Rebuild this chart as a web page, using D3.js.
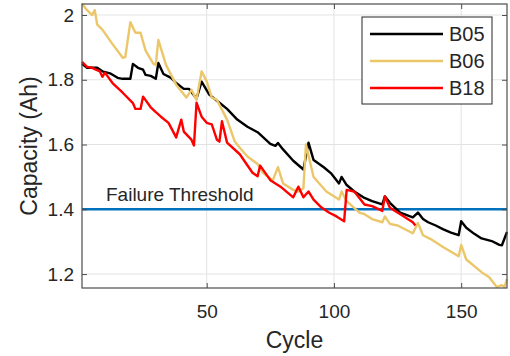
<!DOCTYPE html>
<html>
<head>
<meta charset="utf-8">
<script src="https://cdn.jsdelivr.net/npm/d3@7"></script>
<style>
  body { margin: 0; background: #fff; }
  text { font-family: "Liberation Sans", Arial, sans-serif; fill: #262626; }
</style>
</head>
<body>
<svg id="vis" width="510" height="356"></svg>
<script>
const svg = d3.select("#vis");

// [cycle, capacity Ah]
const b05 = [[1,1.849],[3,1.837],[7,1.837],[9,1.826],[12,1.82],[15,1.806],[17,1.803],[20,1.803],
  [21,1.849],[23,1.837],[25,1.831],[26,1.815],[28,1.812],[30,1.803],[31,1.852],[33,1.818],[36,1.806],
  [38,1.79],[41,1.772],[43,1.772],[46,1.742],[48,1.794],[51,1.754],[55,1.729],[58,1.71],[62,1.677],
  [66,1.655],[70,1.638],[75,1.602],[77,1.596],[78,1.605],[80,1.585],[84,1.55],[88,1.523],[90,1.606],
  [92,1.552],[96,1.53],[99,1.51],[102,1.48],[103,1.5],[105,1.475],[108,1.455],[112,1.435],[115,1.425],
  [119,1.415],[120,1.44],[122,1.42],[126,1.39],[131,1.375],[133,1.39],[135,1.37],[137,1.36],[140,1.35],
  [143,1.338],[146,1.328],[149,1.32],[150,1.363],[152,1.343],[155,1.325],[158,1.31],[162,1.302],
  [165,1.29],[166,1.289],[168,1.33]];

const b06 = [[1,2.035],[3,2.015],[5,2.0],[6,2.015],[7,1.97],[9,1.955],[13,1.91],[17,1.868],[18,1.87],
  [20,1.978],[22,1.945],[24,1.945],[26,1.89],[29,1.85],[30,1.846],[31,1.923],[34,1.846],[38,1.785],
  [42,1.745],[44,1.769],[46,1.738],[48,1.826],[50,1.795],[52,1.745],[54,1.738],[56,1.708],[58,1.677],
  [61,1.61],[63,1.59],[66,1.563],[70,1.54],[72,1.513],[76,1.49],[78,1.53],[80,1.48],[84,1.46],
  [86,1.455],[88,1.465],[89,1.6],[92,1.5],[97,1.455],[102,1.43],[103,1.455],[105,1.425],[110,1.39],
  [112,1.385],[115,1.37],[119,1.36],[120,1.378],[122,1.355],[125,1.35],[131,1.326],[133,1.358],
  [135,1.32],[138,1.308],[143,1.283],[149,1.255],[150,1.29],[152,1.245],[158,1.206],[161,1.19],
  [164,1.16],[166,1.166],[167,1.16],[168,1.185]];

const b18 = [[1,1.855],[3,1.84],[5,1.837],[8,1.826],[9,1.809],[10,1.822],[13,1.79],[17,1.76],[21,1.728],
  [22,1.71],[24,1.71],[25,1.748],[28,1.715],[30,1.7],[32,1.686],[35,1.667],[38,1.622],[40,1.677],
  [41,1.64],[44,1.615],[45,1.597],[46,1.729],[48,1.686],[50,1.667],[52,1.662],[54,1.615],[55,1.609],
  [56,1.672],[58,1.606],[63,1.57],[68,1.513],[70,1.502],[71,1.535],[75,1.49],[79,1.47],[84,1.437],
  [86,1.47],[88,1.437],[90,1.455],[92,1.43],[95,1.406],[98,1.39],[101,1.378],[104,1.363],[105,1.46],
  [108,1.455],[112,1.415],[115,1.41],[119,1.395],[120,1.44],[122,1.405],[127,1.38],[131,1.36],[132,1.35]];

const series = [
  {name: "B05", data: b05, color: "#000000"},
  {name: "B06", data: b06, color: "#ecc76a"},
  {name: "B18", data: b18, color: "#ff0000"}
];
const THRESHOLD = 1.4;
const xTicks = [50, 100, 150];
const yTicks = [1.2, 1.4, 1.6, 1.8, 2];

const L = 82, R = 507, T = 4, B = 288;
const x = d3.scaleLinear().domain([1, 168]).range([L, R]);
const y = d3.scaleLinear().domain([1.157, 2.034]).range([B, T]);

// grid
svg.append("g").selectAll("line").data(xTicks).join("line")
  .attr("x1", d => x(d)).attr("x2", d => x(d)).attr("y1", T).attr("y2", B)
  .attr("stroke", "#e3e3e3").attr("stroke-width", 1);
svg.append("g").selectAll("line").data(yTicks).join("line")
  .attr("x1", L).attr("x2", R).attr("y1", d => y(d)).attr("y2", d => y(d))
  .attr("stroke", "#e3e3e3").attr("stroke-width", 1);

// threshold
svg.append("line")
  .attr("x1", L).attr("x2", R).attr("y1", y(THRESHOLD)).attr("y2", y(THRESHOLD))
  .attr("stroke", "#0072bd").attr("stroke-width", 2.5);
svg.append("text").attr("x", 106).attr("y", y(THRESHOLD) - 8)
  .attr("font-size", 19).text("Failure Threshold");

// lines
const line = d3.line().x(d => x(d[0])).y(d => y(d[1]));
svg.append("g").selectAll("path").data(series).join("path")
  .attr("d", d => line(d.data))
  .attr("fill", "none")
  .attr("stroke", d => d.color)
  .attr("stroke-width", 2.4)
  .attr("stroke-linejoin", "round");

// axes
function styleAxis(g) {
  g.select(".domain").remove();
  g.selectAll(".tick line").attr("stroke", "#4d4d4d");
  g.selectAll(".tick text").attr("font-size", 19).attr("fill", "#262626")
    .attr("font-family", "Liberation Sans, Arial, sans-serif");
}
svg.append("g").attr("transform", `translate(0,${B})`)
  .call(d3.axisBottom(x).tickValues(xTicks).tickSizeInner(-5).tickSizeOuter(0).tickPadding(17))
  .call(styleAxis);
svg.append("g").attr("transform", `translate(0,${T})`)
  .call(d3.axisTop(x).tickValues(xTicks).tickSizeInner(-5).tickSizeOuter(0).tickFormat(""))
  .call(styleAxis);
svg.append("g").attr("transform", `translate(${L},0)`)
  .call(d3.axisLeft(y).tickValues(yTicks).tickSizeInner(-5).tickSizeOuter(0).tickPadding(8)
    .tickFormat(d3.format("~g")))
  .call(styleAxis);
svg.append("g").attr("transform", `translate(${R},0)`)
  .call(d3.axisRight(y).tickValues(yTicks).tickSizeInner(-5).tickSizeOuter(0).tickFormat(""))
  .call(styleAxis);

svg.append("rect").attr("x", L).attr("y", T).attr("width", R - L).attr("height", B - T)
  .attr("fill", "none").attr("stroke", "#4d4d4d").attr("stroke-width", 1.2);

// axis labels
svg.append("text").attr("x", (L + R) / 2).attr("y", 348)
  .attr("text-anchor", "middle").attr("font-size", 23).text("Cycle");
svg.append("text").attr("transform", `translate(37,${(T + B) / 2}) rotate(-90)`)
  .attr("text-anchor", "middle").attr("font-size", 23).text("Capacity (Ah)");

// legend
const lg = svg.append("g");
lg.append("rect").attr("x", 362).attr("y", 17).attr("width", 130).attr("height", 87)
  .attr("fill", "#fff").attr("stroke", "#262626").attr("stroke-width", 1);
const rows = lg.selectAll("g.row").data(series).join("g").attr("class", "row")
  .attr("transform", (d, i) => `translate(0,${34 + i * 27})`);
rows.append("line").attr("x1", 370).attr("x2", 443).attr("y1", 0).attr("y2", 0)
  .attr("stroke", d => d.color).attr("stroke-width", 2.4);
rows.append("text").attr("x", 449).attr("y", 0).attr("dy", "0.35em")
  .attr("font-size", 20).text(d => d.name);
</script>
</body>
</html>
